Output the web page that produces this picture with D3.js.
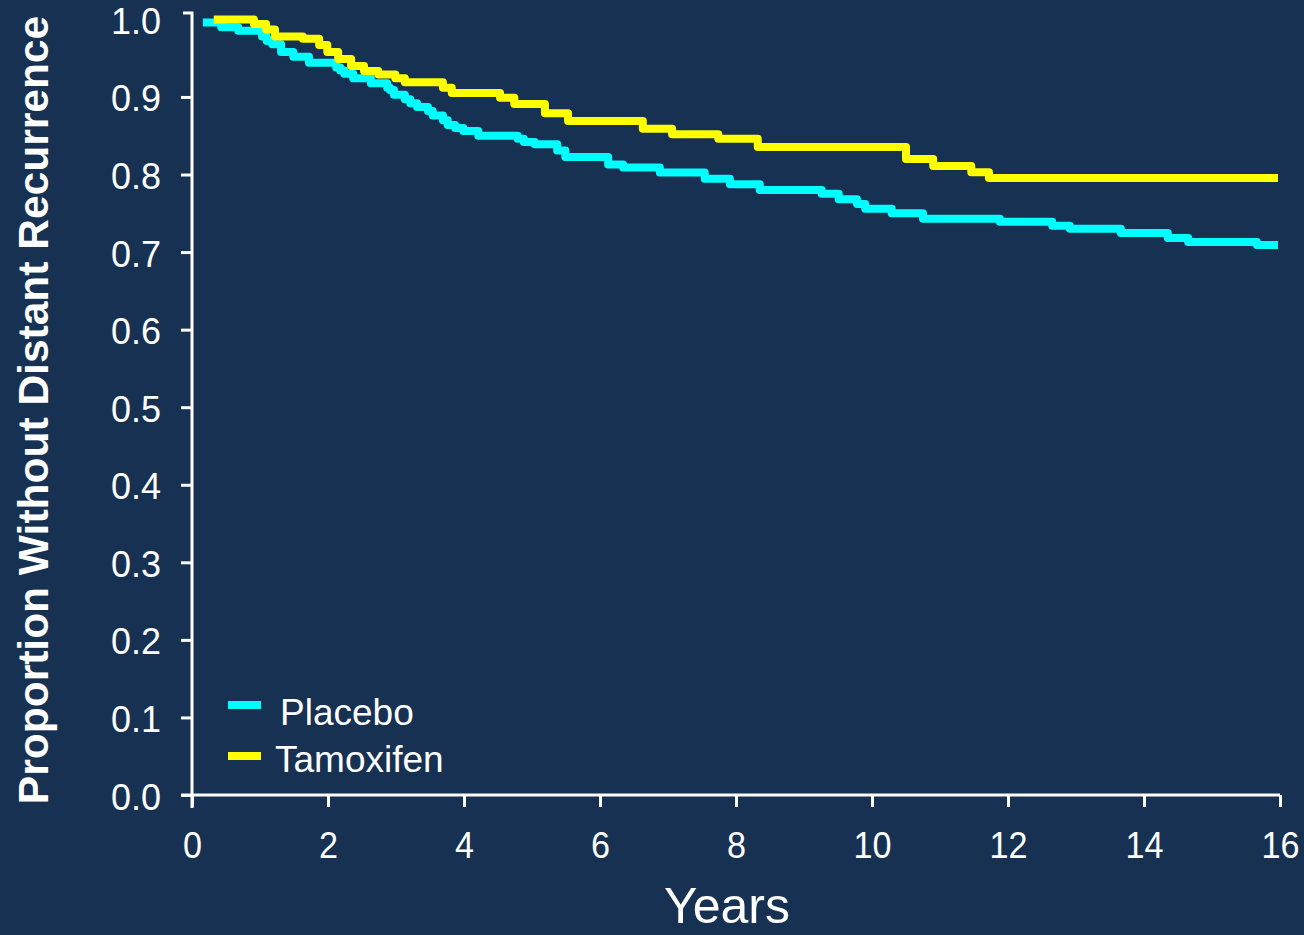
<!DOCTYPE html>
<html>
<head>
<meta charset="utf-8">
<script src="https://cdn.jsdelivr.net/npm/d3@7"></script>
<style>
  html, body { margin: 0; padding: 0; background: #163152; }
  svg { display: block; }
  text { font-family: "Liberation Sans", Arial, sans-serif; fill: #ffffff; }
</style>
</head>
<body>
<svg id="chart" width="1304" height="935"></svg>
<script>
// Kaplan-Meier step data: event times (years) and proportion without distant recurrence
const placeboTimes = [0.16, 0.43, 0.68, 1.03, 1.10, 1.18, 1.31, 1.49, 1.72, 2.12, 2.18, 2.24, 2.37, 2.63, 2.87, 2.91, 2.97, 3.13, 3.21, 3.31, 3.47, 3.54, 3.69, 3.76, 3.87, 3.99, 4.21, 4.79, 4.88, 5.04, 5.37, 5.49, 6.12, 6.34, 6.88, 7.54, 7.91, 8.35, 9.26, 9.51, 9.78, 9.90, 10.29, 10.75, 11.88, 12.65, 12.91, 13.66, 14.35, 14.65, 15.66, 15.97];
const placeboSurvival = [0.996, 0.990, 0.9855, 0.978, 0.972, 0.968, 0.958, 0.952, 0.944, 0.938, 0.934, 0.930, 0.924, 0.9176, 0.912, 0.909, 0.903, 0.897, 0.892, 0.887, 0.882, 0.876, 0.870, 0.864, 0.860, 0.856, 0.850, 0.846, 0.842, 0.839, 0.831, 0.8226, 0.813, 0.809, 0.8026, 0.7945, 0.7875, 0.780, 0.7753, 0.768, 0.762, 0.756, 0.750, 0.743, 0.739, 0.734, 0.730, 0.7245, 0.718, 0.713, 0.709, 0.709];

const tamoxifenTimes = [0.32, 0.91, 1.09, 1.22, 1.63, 1.87, 1.99, 2.15, 2.34, 2.53, 2.74, 2.99, 3.13, 3.69, 3.82, 4.53, 4.74, 5.19, 5.53, 6.63, 7.06, 7.74, 8.32, 10.50, 10.90, 11.46, 11.72, 15.97];
const tamoxifenSurvival = [1.0, 0.994, 0.987, 0.978, 0.975, 0.967, 0.958, 0.949, 0.940, 0.9335, 0.929, 0.924, 0.919, 0.912, 0.905, 0.899, 0.891, 0.879, 0.869, 0.859, 0.852, 0.846, 0.8355, 0.820, 0.811, 0.803, 0.7955, 0.7955];

const xTicks = [0, 2, 4, 6, 8, 10, 12, 14, 16];
const yTicks = [0.0, 0.1, 0.2, 0.3, 0.4, 0.5, 0.6, 0.7, 0.8, 0.9, 1.0];

const seriesNames = ["Placebo", "Tamoxifen"];
const seriesColors = ["#00ffff", "#ffff00"];

const svg = d3.select("#chart");

const x = d3.scaleLinear().domain([0, 16]).range([192, 1280]);
const y = d3.scaleLinear().domain([0, 1]).range([795, 19.4]);

const axisColor = "#ffffff";

// Y axis
const yAxis = svg.append("g")
  .attr("transform", `translate(${x(0)},0)`)
  .call(d3.axisLeft(y).tickValues(yTicks).tickFormat(d3.format(".1f")).tickSize(11).tickSizeOuter(0).tickPadding(0));
yAxis.select(".domain").remove();
yAxis.selectAll(".tick line").attr("stroke", axisColor).attr("stroke-width", 3)
  .filter(d => d === 1.0).remove();
yAxis.selectAll(".tick text")
  .attr("fill", "#fff")
  .attr("font-size", 36)
  .attr("text-anchor", "end")
  .attr("x", 0).attr("dy", null).attr("y", 0)
  .attr("transform", "translate(-31,14)");
// y axis line, running a little above 1.0 with a cap tick
svg.append("path")
  .attr("d", `M${x(0) - 9},13 H${x(0)} V${y(0) + 13}`)
  .attr("fill", "none").attr("stroke", axisColor).attr("stroke-width", 3);

// X axis
const xAxis = svg.append("g")
  .attr("transform", `translate(0,${y(0)})`)
  .call(d3.axisBottom(x).tickValues(xTicks).tickFormat(d3.format("d")).tickSize(12).tickSizeOuter(0).tickPadding(0));
xAxis.select(".domain").remove();
xAxis.selectAll(".tick line").attr("stroke", axisColor).attr("stroke-width", 3);
xAxis.selectAll(".tick text")
  .attr("fill", "#fff")
  .attr("font-size", 36)
  .attr("dy", null).attr("y", 0)
  .attr("transform", "translate(0,63) scale(0.95,1)");
svg.append("line")
  .attr("x1", x(0) - 11).attr("x2", x(16))
  .attr("y1", y(0)).attr("y2", y(0))
  .attr("stroke", axisColor).attr("stroke-width", 3);

// Survival curves
const line = d3.line()
  .x(d => x(d[0]))
  .y(d => y(d[1]))
  .curve(d3.curveStepAfter);

const series = [
  d3.zip(placeboTimes, placeboSurvival),
  d3.zip(tamoxifenTimes, tamoxifenSurvival)
];

svg.append("g").selectAll("path")
  .data(series)
  .join("path")
  .attr("d", line)
  .attr("fill", "none")
  .attr("stroke", (d, i) => seriesColors[i])
  .attr("stroke-width", 8)
  .attr("stroke-linejoin", "round");

// Legend
const legend = svg.append("g");
const legendRows = [
  { y: 705, textX: 280, baseline: 725 },
  { y: 756, textX: 275, baseline: 772 }
];
legendRows.forEach((r, i) => {
  legend.append("rect")
    .attr("x", 228).attr("y", r.y - 4)
    .attr("width", 33).attr("height", 8)
    .attr("fill", seriesColors[i]);
  legend.append("text")
    .attr("x", r.textX).attr("y", r.baseline)
    .attr("font-size", 37)
    .text(seriesNames[i]);
});

// Axis titles
svg.append("text")
  .attr("x", 727).attr("y", 923)
  .attr("text-anchor", "middle")
  .attr("font-size", 50)
  .text("Years");

svg.append("text")
  .attr("transform", "translate(48,410) rotate(-90)")
  .attr("text-anchor", "middle")
  .attr("font-size", 42.5)
  .attr("font-weight", "bold")
  .text("Proportion Without Distant Recurrence");
</script>
</body>
</html>
